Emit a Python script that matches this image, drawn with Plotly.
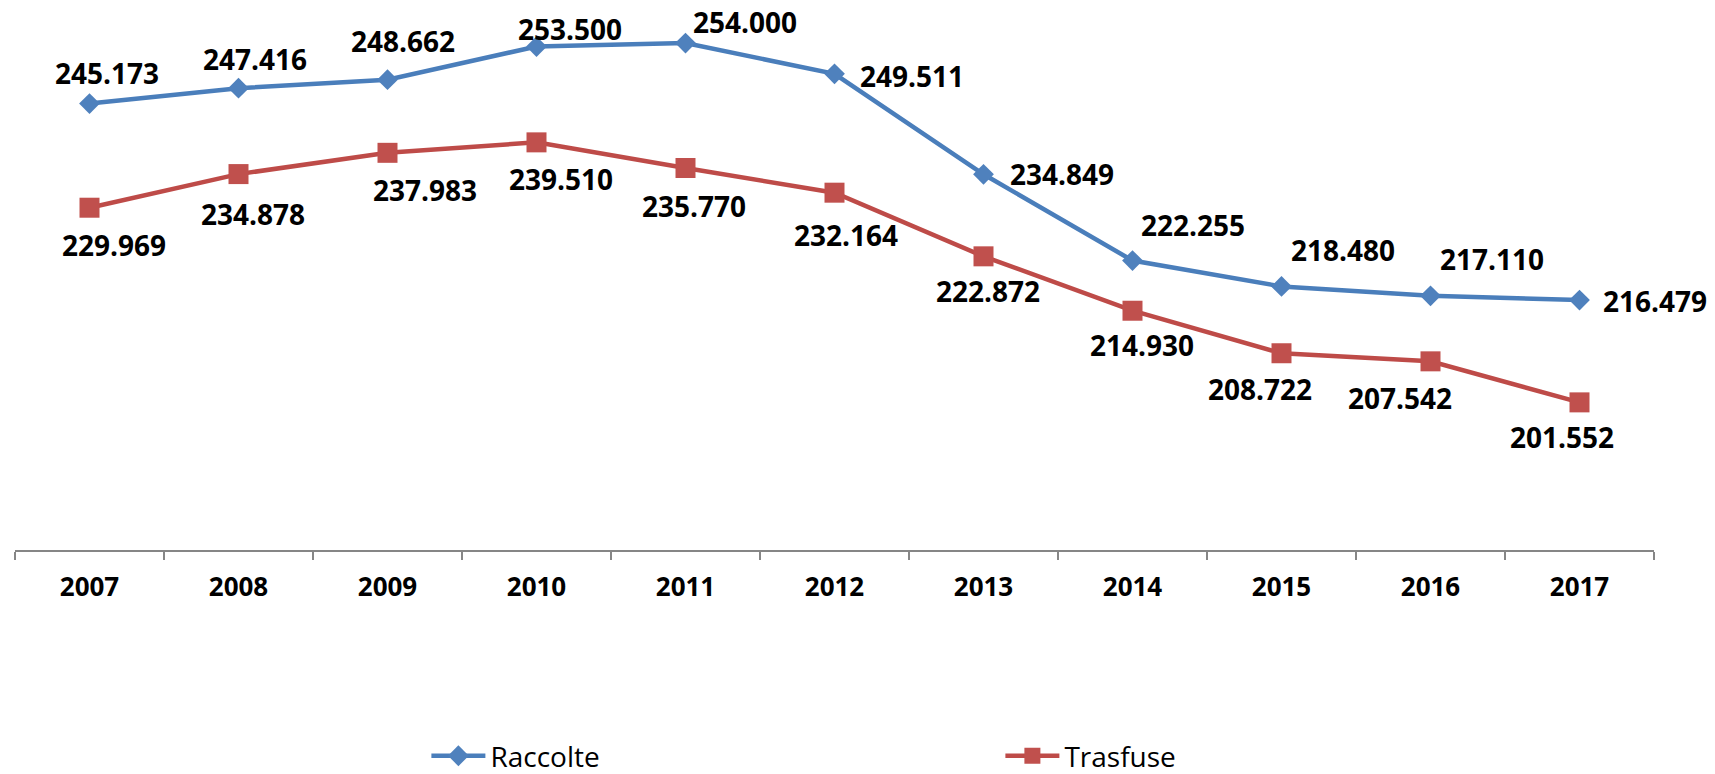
import plotly.graph_objects as go

years = ["2007", "2008", "2009", "2010", "2011", "2012", "2013", "2014", "2015", "2016", "2017"]
raccolte = [245.173, 247.416, 248.662, 253.500, 254.000, 249.511, 234.849, 222.255, 218.480, 217.110, 216.479]
trasfuse = [229.969, 234.878, 237.983, 239.510, 235.770, 232.164, 222.872, 214.930, 208.722, 207.542, 201.552]
series_names = ["Raccolte", "Trasfuse"]

FONT = "Liberation Sans Narrow, Open Sans, sans-serif"
BLUE_LINE = "#4A7EBB"
BLUE_MARK = "#4F81BD"
RED_LINE = "#BE4B48"
RED_MARK = "#C0504D"

# label offsets in pixels (style)
off_r = [(17, -31), (16, -29), (15, -39), (33, -18), (59, -21), (77, 2), (78, 0), (60, -36), (61, -36), (61, -37), (75, 1)]
off_t = [(24, 37), (14, 40), (37, 37), (24, 37), (8, 38), (11, 42), (4, 35), (9, 34), (-22, 36), (-31, 37), (-18, 35)]

def fmt(v):
    return f"{v:.3f}"

fig = go.Figure()
fig.add_trace(go.Scatter(
    x=years, y=raccolte, name=series_names[0], mode="lines+markers",
    line=dict(color=BLUE_LINE, width=4.5),
    marker=dict(symbol="diamond", size=16, color=BLUE_MARK, line=dict(width=0)),
))
fig.add_trace(go.Scatter(
    x=years, y=trasfuse, name=series_names[1], mode="lines+markers",
    line=dict(color=RED_LINE, width=4.5),
    marker=dict(symbol="square", size=20, color=RED_MARK, line=dict(width=0)),
))

for vals, offs in ((raccolte, off_r), (trasfuse, off_t)):
    for i, (v, (dx, dy)) in enumerate(zip(vals, offs)):
        fig.add_annotation(
            x=i, y=v, xref="x", yref="y", text="<b>" + fmt(v) + "</b>", showarrow=False,
            xshift=dx, yshift=-dy,
            font=dict(family=FONT, size=28, color="black"),
        )

fig.update_layout(
    width=1715, height=774,
    margin=dict(l=15, r=61, t=2, b=224, autoexpand=False),
    paper_bgcolor="white", plot_bgcolor="white",
    showlegend=True,
    legend=dict(
        orientation="h", x=0.251, xanchor="left", y=-0.376, yanchor="middle",
        entrywidth=505, entrywidthmode="pixels",
        font=dict(family=FONT, size=28, color="black"),
        itemwidth=54,
    ),
    xaxis=dict(
        type="category", range=[-0.5, 10.5],
        showline=True, linecolor="#868686", linewidth=1.5,
        ticks="outside", tickson="boundaries", ticklen=8, tickcolor="#868686", tickwidth=1.5,
        ticklabelstandoff=13,
        showgrid=False, zeroline=False,
        tickfont=dict(family=FONT, size=26, color="black", weight="bold"),
    ),
    yaxis=dict(
        range=[180, 260], visible=False, showgrid=False, zeroline=False,
    ),
)

fig.write_html("out.html", config={"displayModeBar": False},
               post_script="document.body.style.margin='0';")
